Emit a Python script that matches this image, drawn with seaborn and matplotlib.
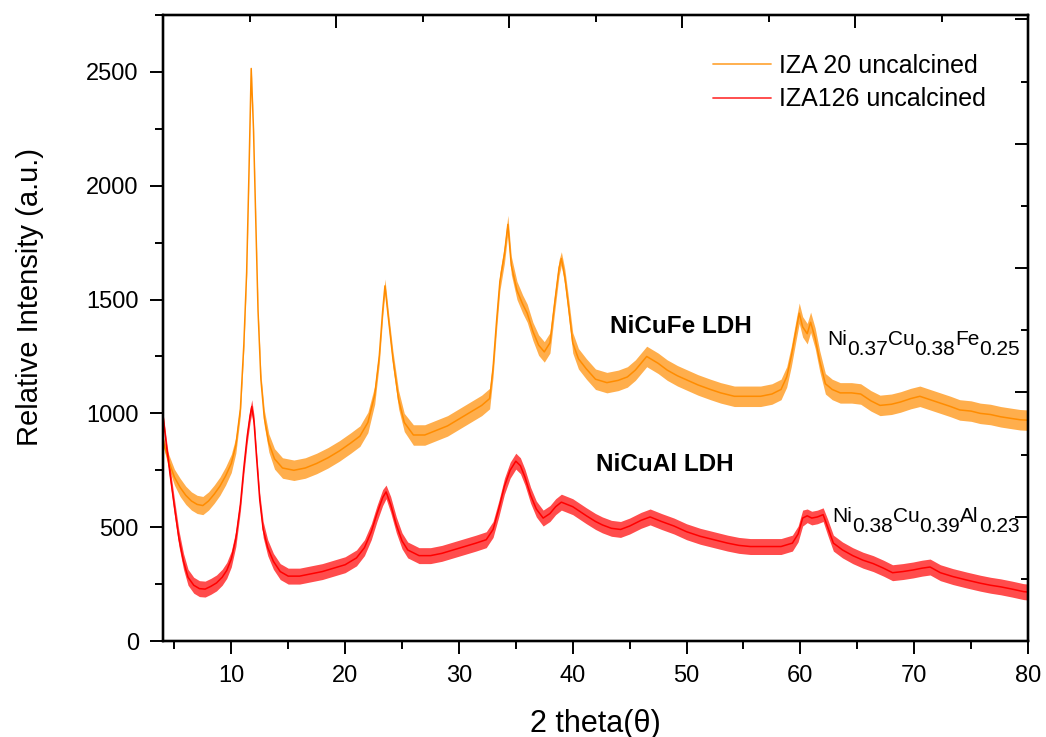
import matplotlib
matplotlib.use("Agg")
import matplotlib.pyplot as plt
from matplotlib.ticker import MultipleLocator, NullFormatter
import seaborn as sns
import pandas as pd

# ---------------- data ----------------
iza20_theta = [4.0, 4.5, 5.0, 5.5, 6.0, 6.5, 7.0, 7.5, 8.0, 8.5, 9.0, 9.5, 10.0, 10.4, 10.8,
               11.1, 11.35, 11.55, 11.75, 11.95, 12.1, 12.35, 12.6, 12.9, 13.3, 13.8, 14.5,
               15.5, 16.5, 17.5, 18.5, 19.5, 20.5, 21.3, 22.0, 22.6, 23.0, 23.3, 23.5, 23.8,
               24.2, 24.7, 25.2, 26.0, 27.0, 28.0, 29.0, 30.0, 31.0, 32.0, 32.7, 33.0, 33.3,
               33.6, 34.0, 34.3, 34.6, 35.1, 35.6, 36.0, 36.5, 37.0, 37.5, 38.0, 38.4, 38.8,
               39.0, 39.3, 39.6, 40.0, 40.5, 41.2, 42.0, 43.0, 44.0, 44.8, 45.5, 46.5, 47.5,
               48.3, 49.2, 50.1, 51.0, 52.1, 53.0, 54.2, 55.5, 56.5, 57.5, 58.3, 58.8, 59.2,
               59.6, 59.9, 60.2, 60.6, 60.9, 61.3, 61.7, 62.2, 62.8, 63.5, 64.5, 65.3, 66.2,
               67.0, 68.0, 68.8, 69.7, 70.5, 71.4, 72.3, 73.2, 74.0, 75.0, 75.8, 76.7, 77.6,
               78.5, 79.3, 80.0]
iza20_intensity = [880, 790, 720, 675, 640, 615, 600, 595, 615, 645, 680, 725, 780, 860, 1020,
                   1300, 1620, 2050, 2515, 2250, 1950, 1450, 1150, 980, 870, 800, 760,
                   750, 760, 780, 805, 835, 870, 900, 960, 1080, 1250, 1450, 1560, 1420,
                   1240, 1060, 960, 905, 905, 925, 945, 975, 1005, 1035, 1065, 1200, 1400,
                   1580, 1700, 1830, 1650, 1540, 1480, 1440, 1360, 1300, 1270, 1310, 1480, 1640,
                   1680, 1600, 1480, 1310, 1240, 1195, 1150, 1135, 1145, 1160, 1190, 1250, 1220,
                   1190, 1165, 1145, 1125, 1105, 1090, 1075, 1075, 1075, 1085, 1105, 1160, 1250,
                   1360, 1440, 1380, 1350, 1400, 1330, 1230, 1130, 1105, 1090, 1090, 1085, 1055,
                   1035, 1040, 1050, 1065, 1075, 1060, 1045, 1030, 1015, 1010, 1000, 995, 985,
                   978, 972, 970]
iza20_noise = [20, 30, 35, 40, 40, 40, 40, 40, 40, 40, 40, 40, 40, 35, 30,
               20, 15, 10, 10, 10, 10, 15, 25, 35, 40, 45, 45,
               45, 45, 45, 45, 45, 45, 45, 45, 40, 35, 30, 30, 30,
               35, 40, 40, 45, 45, 45, 45, 45, 45, 45, 45, 40, 40,
               40, 40, 40, 40, 40, 40, 40, 40, 45, 45, 45, 40, 35,
               30, 35, 40, 45, 45, 45, 45, 45, 45, 45, 45, 45, 45,
               45, 45, 45, 45, 45, 45, 45, 45, 45, 45, 45, 45, 45,
               45, 45, 45, 45, 45, 45, 45, 45, 45, 45, 45, 45, 45,
               45, 45, 45, 45, 45, 45, 45, 45, 45, 45, 45, 45, 45,
               45, 45, 45]

iza126_theta = [4.0, 4.3, 4.6, 5.0, 5.4, 5.8, 6.2, 6.7, 7.2, 7.7, 8.2, 8.7, 9.2, 9.6, 10.0,
                10.4, 10.8, 11.1, 11.4, 11.65, 11.8, 12.0, 12.2, 12.5, 12.8, 13.2, 13.7, 14.3,
                15.0, 16.0, 17.0, 18.0, 19.0, 20.0, 21.0, 21.7, 22.3, 22.8, 23.3, 23.6, 24.0,
                24.5, 25.0, 25.5, 26.5, 27.5, 28.5, 29.5, 30.5, 31.5, 32.4, 33.0, 33.5, 34.0,
                34.5, 35.0, 35.4, 35.8, 36.3, 36.8, 37.4, 38.0, 38.5, 39.0, 39.5, 40.0, 40.6,
                41.2, 42.0, 42.6, 43.4, 44.2, 45.0, 46.0, 46.8, 47.8, 48.9, 50.0, 51.2, 52.4,
                53.6, 54.6, 55.6, 56.8, 58.3, 59.3, 59.8, 60.2, 60.6, 61.0, 61.5, 62.0, 62.4,
                62.9, 63.7, 64.6, 65.5, 66.4, 67.3, 68.1, 69.0, 69.9, 70.7, 71.4, 72.3, 73.4,
                74.6, 75.8, 76.7, 77.6, 78.6, 79.6, 80.0]
iza126_intensity = [990, 860, 740, 590, 450, 350, 280, 245, 230, 228, 240, 255, 280, 310, 360,
                    450, 600, 760, 900, 990, 1030, 960, 820, 620, 490, 410, 350, 305,
                    285, 285, 295, 305, 320, 335, 365, 410, 480, 560, 630, 655, 600,
                    510, 440, 400, 375, 375, 385, 400, 415, 430, 445, 490, 580, 680,
                    750, 790, 770, 720, 640, 580, 540, 560, 590, 610, 600, 590, 570,
                    550, 525, 510, 495, 490, 505, 530, 545, 525, 505, 480, 460, 445,
                    430, 420, 415, 415, 415, 430, 470, 540, 550, 540, 545, 555, 500,
                    430, 400, 375, 355, 340, 320, 300, 305, 312, 320, 325, 300, 283,
                    268, 254, 245, 238, 228, 217, 215]
iza126_noise = [15, 25, 30, 35, 35, 35, 35, 35, 35, 35, 35, 35, 35, 35, 35,
                35, 30, 30, 30, 30, 30, 30, 30, 30, 35, 35, 35, 35,
                35, 35, 35, 35, 35, 35, 35, 35, 35, 35, 35, 30, 35,
                35, 35, 35, 35, 35, 35, 35, 35, 35, 35, 35, 35, 35,
                35, 35, 35, 35, 35, 35, 35, 35, 35, 35, 35, 35, 35,
                35, 35, 35, 35, 35, 35, 35, 35, 35, 35, 35, 35, 35,
                35, 35, 35, 35, 35, 35, 35, 35, 30, 30, 30, 30, 35,
                35, 35, 35, 35, 35, 35, 35, 35, 35, 35, 35, 35, 35,
                35, 35, 35, 35, 35, 35, 35]

series_labels = ["IZA 20 uncalcined", "IZA126 uncalcined"]
series_colors = ["#FF8C00", "#FF0000"]
x_ticks = [10, 20, 30, 40, 50, 60, 70, 80]
y_ticks = [0, 500, 1000, 1500, 2000, 2500]

# ---------------- style ----------------
sns.set_style("ticks")
plt.rcParams["font.family"] = ["Liberation Sans", "DejaVu Sans"]
plt.rcParams["mathtext.fontset"] = "custom"
plt.rcParams["mathtext.rm"] = "Liberation Sans"
for k in ["text.color", "axes.labelcolor", "xtick.color", "ytick.color", "axes.edgecolor"]:
    plt.rcParams[k] = "black"

fig = plt.figure(figsize=(10.46, 7.37), dpi=100)
ax = fig.add_axes([163 / 1046, 1 - 641 / 737, 865 / 1046, 626 / 737])

df20 = pd.DataFrame({"theta": iza20_theta, "I": iza20_intensity, "n": iza20_noise})
df126 = pd.DataFrame({"theta": iza126_theta, "I": iza126_intensity, "n": iza126_noise})

for df, lab, col in [(df20, series_labels[0], series_colors[0]),
                     (df126, series_labels[1], series_colors[1])]:
    ax.fill_between(df["theta"], df["I"] - df["n"], df["I"] + df["n"],
                    color=col, alpha=0.7, linewidth=0)
    sns.lineplot(data=df, x="theta", y="I", ax=ax, color=col, linewidth=1.1, label=lab)

ax.set_xlim(4, 80)
ax.set_ylim(0, 2750)
ax.set_xticks(x_ticks)
ax.set_yticks(y_ticks)
ax.xaxis.set_minor_locator(MultipleLocator(5))
ax.yaxis.set_minor_locator(MultipleLocator(250))
ax.tick_params(axis="both", which="major", direction="out", length=9.4, width=1.4,
               labelsize=17, colors="black", top=False, right=False)
ax.tick_params(axis="both", which="minor", direction="out", length=5.8, width=1.4,
               top=False, right=False)
ax.tick_params(axis="x", which="major", pad=8)
ax.tick_params(axis="y", which="major", pad=8)
for sp in ax.spines.values():
    sp.set_visible(True)
    sp.set_linewidth(1.6)
    sp.set_color("black")

ax.set_xlabel("2 theta(θ)", fontsize=22, color="black")
ax.set_ylabel("Relative Intensity (a.u.)", fontsize=21, color="black")
ax.xaxis.set_label_coords(0.5, -0.108)
ax.yaxis.set_label_coords(-0.137, 0.55)

# top / right axes with their own tick sets (inward, no labels)
axt = ax.twiny()
axt.set_xlim(0, 10)
axt.xaxis.set_major_locator(MultipleLocator(2))
axt.xaxis.set_minor_locator(MultipleLocator(1))
axt.xaxis.set_major_formatter(NullFormatter())
axt.tick_params(axis="x", which="major", direction="in", length=9.4, width=1.4, top=True, bottom=False)
axt.tick_params(axis="x", which="minor", direction="in", length=5.2, width=1.4, top=True, bottom=False)

axr = ax.twinx()
axr.set_ylim(0, 10.07)
axr.yaxis.set_major_locator(MultipleLocator(2))
axr.yaxis.set_minor_locator(MultipleLocator(1))
axr.yaxis.set_major_formatter(NullFormatter())
axr.tick_params(axis="y", which="major", direction="in", length=9.4, width=1.4, right=True, left=False)
axr.tick_params(axis="y", which="minor", direction="in", length=5.2, width=1.4, right=True, left=False)
for a in (axt, axr):
    for sp in a.spines.values():
        sp.set_linewidth(1.6)
        sp.set_color("black")

# legend
leg = ax.legend(loc="upper left", bbox_to_anchor=(0.636, 0.938), frameon=False,
                fontsize=18, handlelength=2.3, handletextpad=0.32, labelspacing=0.38,
                borderpad=0, borderaxespad=0)
for t in leg.get_texts():
    t.set_color("black")
for h in leg.get_lines():
    h.set_linewidth(1.3)
    h.set_alpha(0.75)

# annotations
ax.text(43.28, 1382, "NiCuFe LDH", fontsize=17.5, fontweight="bold", va="center", ha="left")
ax.text(42.05, 774, "NiCuAl LDH", fontsize=17.5, fontweight="bold", va="center", ha="left")


def chem_label(x, y, parts, size=15, sub_dy=7.2):
    first = ax.text(x, y, parts[0][0], fontsize=size, va="baseline", ha="left")
    prev = first
    for txt, sub in parts[1:]:
        prev = ax.annotate(txt, xy=(1, 0), xycoords=(prev, first),
                           xytext=(0, -sub_dy if sub else 0), textcoords="offset points",
                           va="bottom", ha="left", fontsize=size)


chem_label(62.35, 1302, [("Ni", False), ("0.37", True), ("Cu", False), ("0.38", True),
                         ("Fe", False), ("0.25", True)])
chem_label(62.79, 524, [("Ni", False), ("0.38", True), ("Cu", False), ("0.39", True),
                        ("Al", False), ("0.23", True)])

fig.savefig("out.png", dpi=100)
